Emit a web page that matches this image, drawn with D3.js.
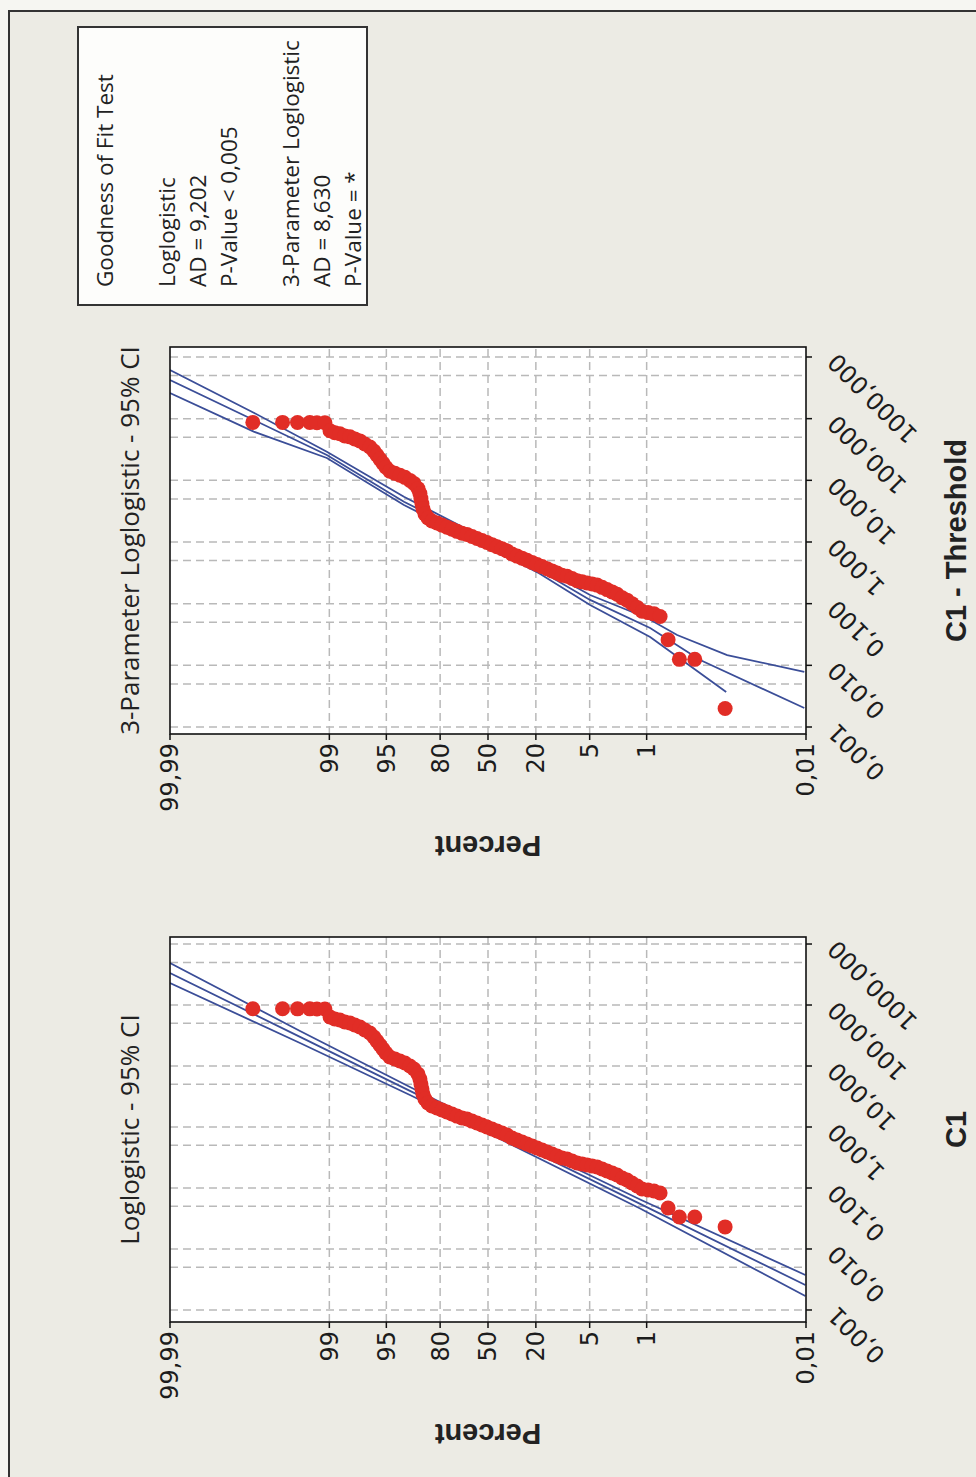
<!DOCTYPE html>
<html>
<head>
<meta charset="utf-8">
<script src="https://cdn.jsdelivr.net/npm/d3@7/dist/d3.min.js"></script>
<style>
  body { margin: 0; background: #f6f6f2; }
</style>
</head>
<body>
<script>
// probability plot data (percent plotting position, C1 value)
var percentPos = [99.89, 99.74, 99.60, 99.43, 99.30, 99.12,
  98.98, 98.83, 98.65, 98.44, 98.20, 97.93, 97.61, 97.25, 96.83, 96.46,
  96.15, 95.81, 95.45, 95.06, 94.49, 93.68, 92.76, 91.73, 90.56, 89.52,
  88.38, 87.78, 87.46, 87.14, 86.81, 86.13, 85.05, 83.52, 81.42, 79.14,
  76.64, 73.95, 71.07, 68.00, 64.77, 61.40, 57.91, 54.34, 50.72, 47.10,
  43.52, 40.00, 36.58, 33.28, 30.14, 27.17, 24.41, 21.83, 19.46, 17.29,
  15.31, 13.53, 11.92, 10.49, 9.20, 8.06, 7.04, 6.15, 5.37, 4.68,
  4.07, 3.54, 3.08, 2.67, 2.32, 2.01, 1.75, 1.52, 1.31, 1.14,
  0.96, 0.81, 0.68, 0.54, 0.39, 0.25, 0.104];
var c1Values = [87, 87, 86.5, 86.5, 86, 86,
  63.6, 59.0, 56.8, 52.6, 50.7, 47.0, 43.6, 38.9, 34.8, 29.9,
  25.7, 22.1, 19.0, 16.3, 14.05, 13.0, 12.1, 11.2, 10.0, 8.93,
  7.39, 6.12, 5.07, 4.20, 3.48, 2.88, 2.47, 2.21, 2.05, 1.90,
  1.76, 1.63, 1.51, 1.41, 1.35, 1.25, 1.16, 1.08, 1.00, 0.927,
  0.859, 0.798, 0.739, 0.660, 0.612, 0.568, 0.526, 0.488, 0.453, 0.420,
  0.389, 0.361, 0.335, 0.310, 0.299, 0.277, 0.257, 0.247, 0.238, 0.230,
  0.221, 0.205, 0.190, 0.176, 0.163, 0.146, 0.135, 0.121, 0.108, 0.0964,
  0.0927, 0.0893, 0.0828, 0.0470, 0.0335, 0.0335, 0.0230];
var threshold = 0.021;

// fitted line and 95% CI, [percent, value]
var llUpper = [[99.99, 488], [99.57, 37.5], [90.56, 4.53], [41.39, 0.828], [1.206, 0.0648], [0.0102, 0.00375]];
var llFit   = [[99.99, 335], [99.57, 30.0], [90.56, 3.91], [41.39, 0.736], [1.206, 0.0548], [0.0102, 0.00257]];
var llLower = [[99.99, 230], [99.57, 23.8], [90.56, 3.35], [41.39, 0.635], [1.206, 0.0461], [0.0102, 0.00170]];

var p3Upper = [[99.99, 615], [99.887, 125], [99.069, 29.1], [91.94, 5.43], [18.57, 0.398], [4.94, 0.138], [0.986, 0.0586], [0.416, 0.0310], [0.098, 0.0147], [0.0105, 0.0078]];
var p3Lower = [[99.99, 424], [99.887, 95.1], [99.069, 25.8], [91.94, 4.50], [18.57, 0.352], [4.94, 0.115], [0.905, 0.0403], [0.214, 0.0122], [0.0105, 0.00203]];
var p3Fit   = [[99.99, 261], [99.887, 61.5], [99.069, 23.0], [91.94, 3.98], [18.57, 0.311], [4.94, 0.0952], [0.905, 0.0288], [0.1008, 0.0037]];

var pctTicks = [0.01, 1, 5, 20, 50, 80, 95, 99, 99.99];
var pctTickLabels = ["0,01", "1", "5", "20", "50", "80", "95", "99", "99,99"];
var pctGrid = [1, 5, 20, 50, 80, 95, 99];
var valTicks = [0.001, 0.01, 0.1, 1, 10, 100, 1000];
var valTickLabels = ["0,001", "0,010", "0,100", "1,000", "10,000", "100,000", "1000,000"];
var valGrid = [0.001, 0.005, 0.01, 0.05, 0.1, 0.5, 1, 5, 10, 50, 100, 500, 1000];

var legendLines = ["Goodness of Fit Test", "", "Loglogistic", "AD = 9,202", "P-Value < 0,005",
  "", "3-Parameter Loglogistic", "AD = 8,630", "P-Value = *"];

var W = 976, H = 1477;
var svg = d3.select("body").append("svg")
  .attr("width", W)
  .attr("height", H);

svg.append("rect").attr("width", W).attr("height", H).attr("fill", "#f6f6f2");

// the whole Minitab graph is drawn upright and then turned a quarter to the left
var g = svg.append("g").attr("transform", "translate(0," + H + ") rotate(-90)");

g.append("rect")
  .attr("x", -10).attr("y", 9)
  .attr("width", 1476).attr("height", 1000)
  .attr("fill", "#ecebe4")
  .attr("stroke", "#333")
  .attr("stroke-width", 2);

function logit(p) { p = p / 100; return Math.log(p / (1 - p)); }
var yLin = d3.scaleLinear().domain([logit(99.99), logit(0.01)]).range([170, 806]);
function yPos(p) { return yLin(logit(p)); }
var top0 = 170, bot0 = 806;

var red = "#e12d26", blue = "#3b4e98";

function drawPanel(o, idx) {
  var xs = d3.scaleLog().domain(o.dom).range([o.x0, o.x1]);
  var p = g.append("g");

  p.append("clipPath").attr("id", "clip" + idx)
    .append("rect").attr("x", o.x0).attr("y", top0)
    .attr("width", o.x1 - o.x0).attr("height", bot0 - top0);

  p.append("rect")
    .attr("x", o.x0).attr("y", top0)
    .attr("width", o.x1 - o.x0).attr("height", bot0 - top0)
    .attr("fill", "#fff");

  // grid
  p.selectAll(".vg").data(valGrid).enter().append("line")
    .attr("x1", d => xs(d)).attr("x2", d => xs(d))
    .attr("y1", top0).attr("y2", bot0)
    .attr("stroke", "#b9b9b9").attr("stroke-width", 1.5)
    .attr("stroke-dasharray", "8,5");
  p.selectAll(".pg").data(pctGrid).enter().append("line")
    .attr("x1", o.x0).attr("x2", o.x1)
    .attr("y1", d => yPos(d)).attr("y2", d => yPos(d))
    .attr("stroke", "#b9b9b9").attr("stroke-width", 1.5)
    .attr("stroke-dasharray", "8,5");

  // fitted line and CI
  var line = d3.line().x(d => xs(d[1])).y(d => yPos(d[0]));
  p.append("g").attr("clip-path", "url(#clip" + idx + ")")
    .selectAll("path").data(o.lines).enter().append("path")
    .attr("d", line)
    .attr("fill", "none")
    .attr("stroke", blue)
    .attr("stroke-width", 1.8);

  // points
  p.selectAll("circle").data(o.pts).enter().append("circle")
    .attr("cx", d => xs(d[1]))
    .attr("cy", d => yPos(d[0]))
    .attr("r", 7.5)
    .attr("fill", red);

  p.append("rect")
    .attr("x", o.x0).attr("y", top0)
    .attr("width", o.x1 - o.x0).attr("height", bot0 - top0)
    .attr("fill", "none").attr("stroke", "#111").attr("stroke-width", 1.6);

  // percent axis (left)
  p.selectAll(".pt").data(pctTicks).enter().append("line")
    .attr("x1", o.x0 - 6).attr("x2", o.x0)
    .attr("y1", d => yPos(d)).attr("y2", d => yPos(d))
    .attr("stroke", "#111").attr("stroke-width", 1.5);
  p.selectAll(".ptl").data(pctTicks).enter().append("text")
    .attr("x", o.x0 - 9)
    .attr("y", d => yPos(d))
    .attr("dy", "0.35em")
    .attr("text-anchor", "end")
    .style("font-family", "DejaVu Sans")
    .style("font-size", "24px")
    .attr("fill", "#1c1c1c")
    .text((d, i) => pctTickLabels[i]);

  // value axis (bottom)
  p.selectAll(".vt").data(valTicks).enter().append("line")
    .attr("x1", d => xs(d)).attr("x2", d => xs(d))
    .attr("y1", bot0).attr("y2", bot0 + 6)
    .attr("stroke", "#111").attr("stroke-width", 1.5);
  p.selectAll(".vtl").data(valTicks).enter().append("text")
    .attr("transform", d => "translate(" + (xs(d) + 5) + "," + (bot0 + 32) + ") rotate(-45)")
    .attr("text-anchor", "end")
    .style("font-family", "DejaVu Sans")
    .style("font-size", "24px")
    .attr("fill", "#1c1c1c")
    .text((d, i) => valTickLabels[i]);

  var cx = (o.x0 + o.x1) / 2;
  p.append("text")
    .attr("x", cx).attr("y", 139)
    .attr("text-anchor", "middle")
    .style("font-family", "Open Sans")
    .style("font-size", "26px")
    .attr("fill", "#222")
    .text(o.title);

  p.append("text")
    .attr("transform", "translate(" + (o.x0 - 102) + "," + ((top0 + bot0) / 2) + ") rotate(-90)")
    .attr("text-anchor", "middle")
    .style("font-family", "Liberation Sans")
    .style("font-weight", "bold")
    .style("font-size", "29px")
    .attr("fill", "#222")
    .text("Percent");

  p.append("text")
    .attr("x", cx).attr("y", 966)
    .attr("text-anchor", "middle")
    .style("font-family", "Liberation Sans")
    .style("font-weight", "bold")
    .style("font-size", "29px")
    .attr("fill", "#222")
    .text(o.xlabel);
}

var ptsC1 = percentPos.map((p, i) => [p, c1Values[i]]);
var ptsShift = percentPos.map((p, i) => [p, c1Values[i] - threshold]);

drawPanel({
  x0: 155, x1: 540,
  dom: [Math.pow(10, -3.197), Math.pow(10, 3.115)],
  title: "Loglogistic - 95% CI",
  xlabel: "C1",
  pts: ptsC1,
  lines: [llUpper, llFit, llLower]
}, 0);

drawPanel({
  x0: 743, x1: 1130,
  dom: [Math.pow(10, -3.1135), Math.pow(10, 3.162)],
  title: "3-Parameter Loglogistic - 95% CI",
  xlabel: "C1 - Threshold",
  pts: ptsShift,
  lines: [p3Upper, p3Lower, p3Fit]
}, 1);

// goodness of fit box
g.append("rect")
  .attr("x", 1172).attr("y", 78)
  .attr("width", 278).attr("height", 289)
  .attr("fill", "#fdfdfb")
  .attr("stroke", "#333")
  .attr("stroke-width", 2);

g.selectAll(".leg").data(legendLines).enter().append("text")
  .attr("x", 1190)
  .attr("y", (d, i) => 113 + i * 31)
  .style("font-family", "Open Sans")
  .style("font-size", "22.5px")
  .attr("fill", "#222")
  .text(d => d);
</script>
</body>
</html>
